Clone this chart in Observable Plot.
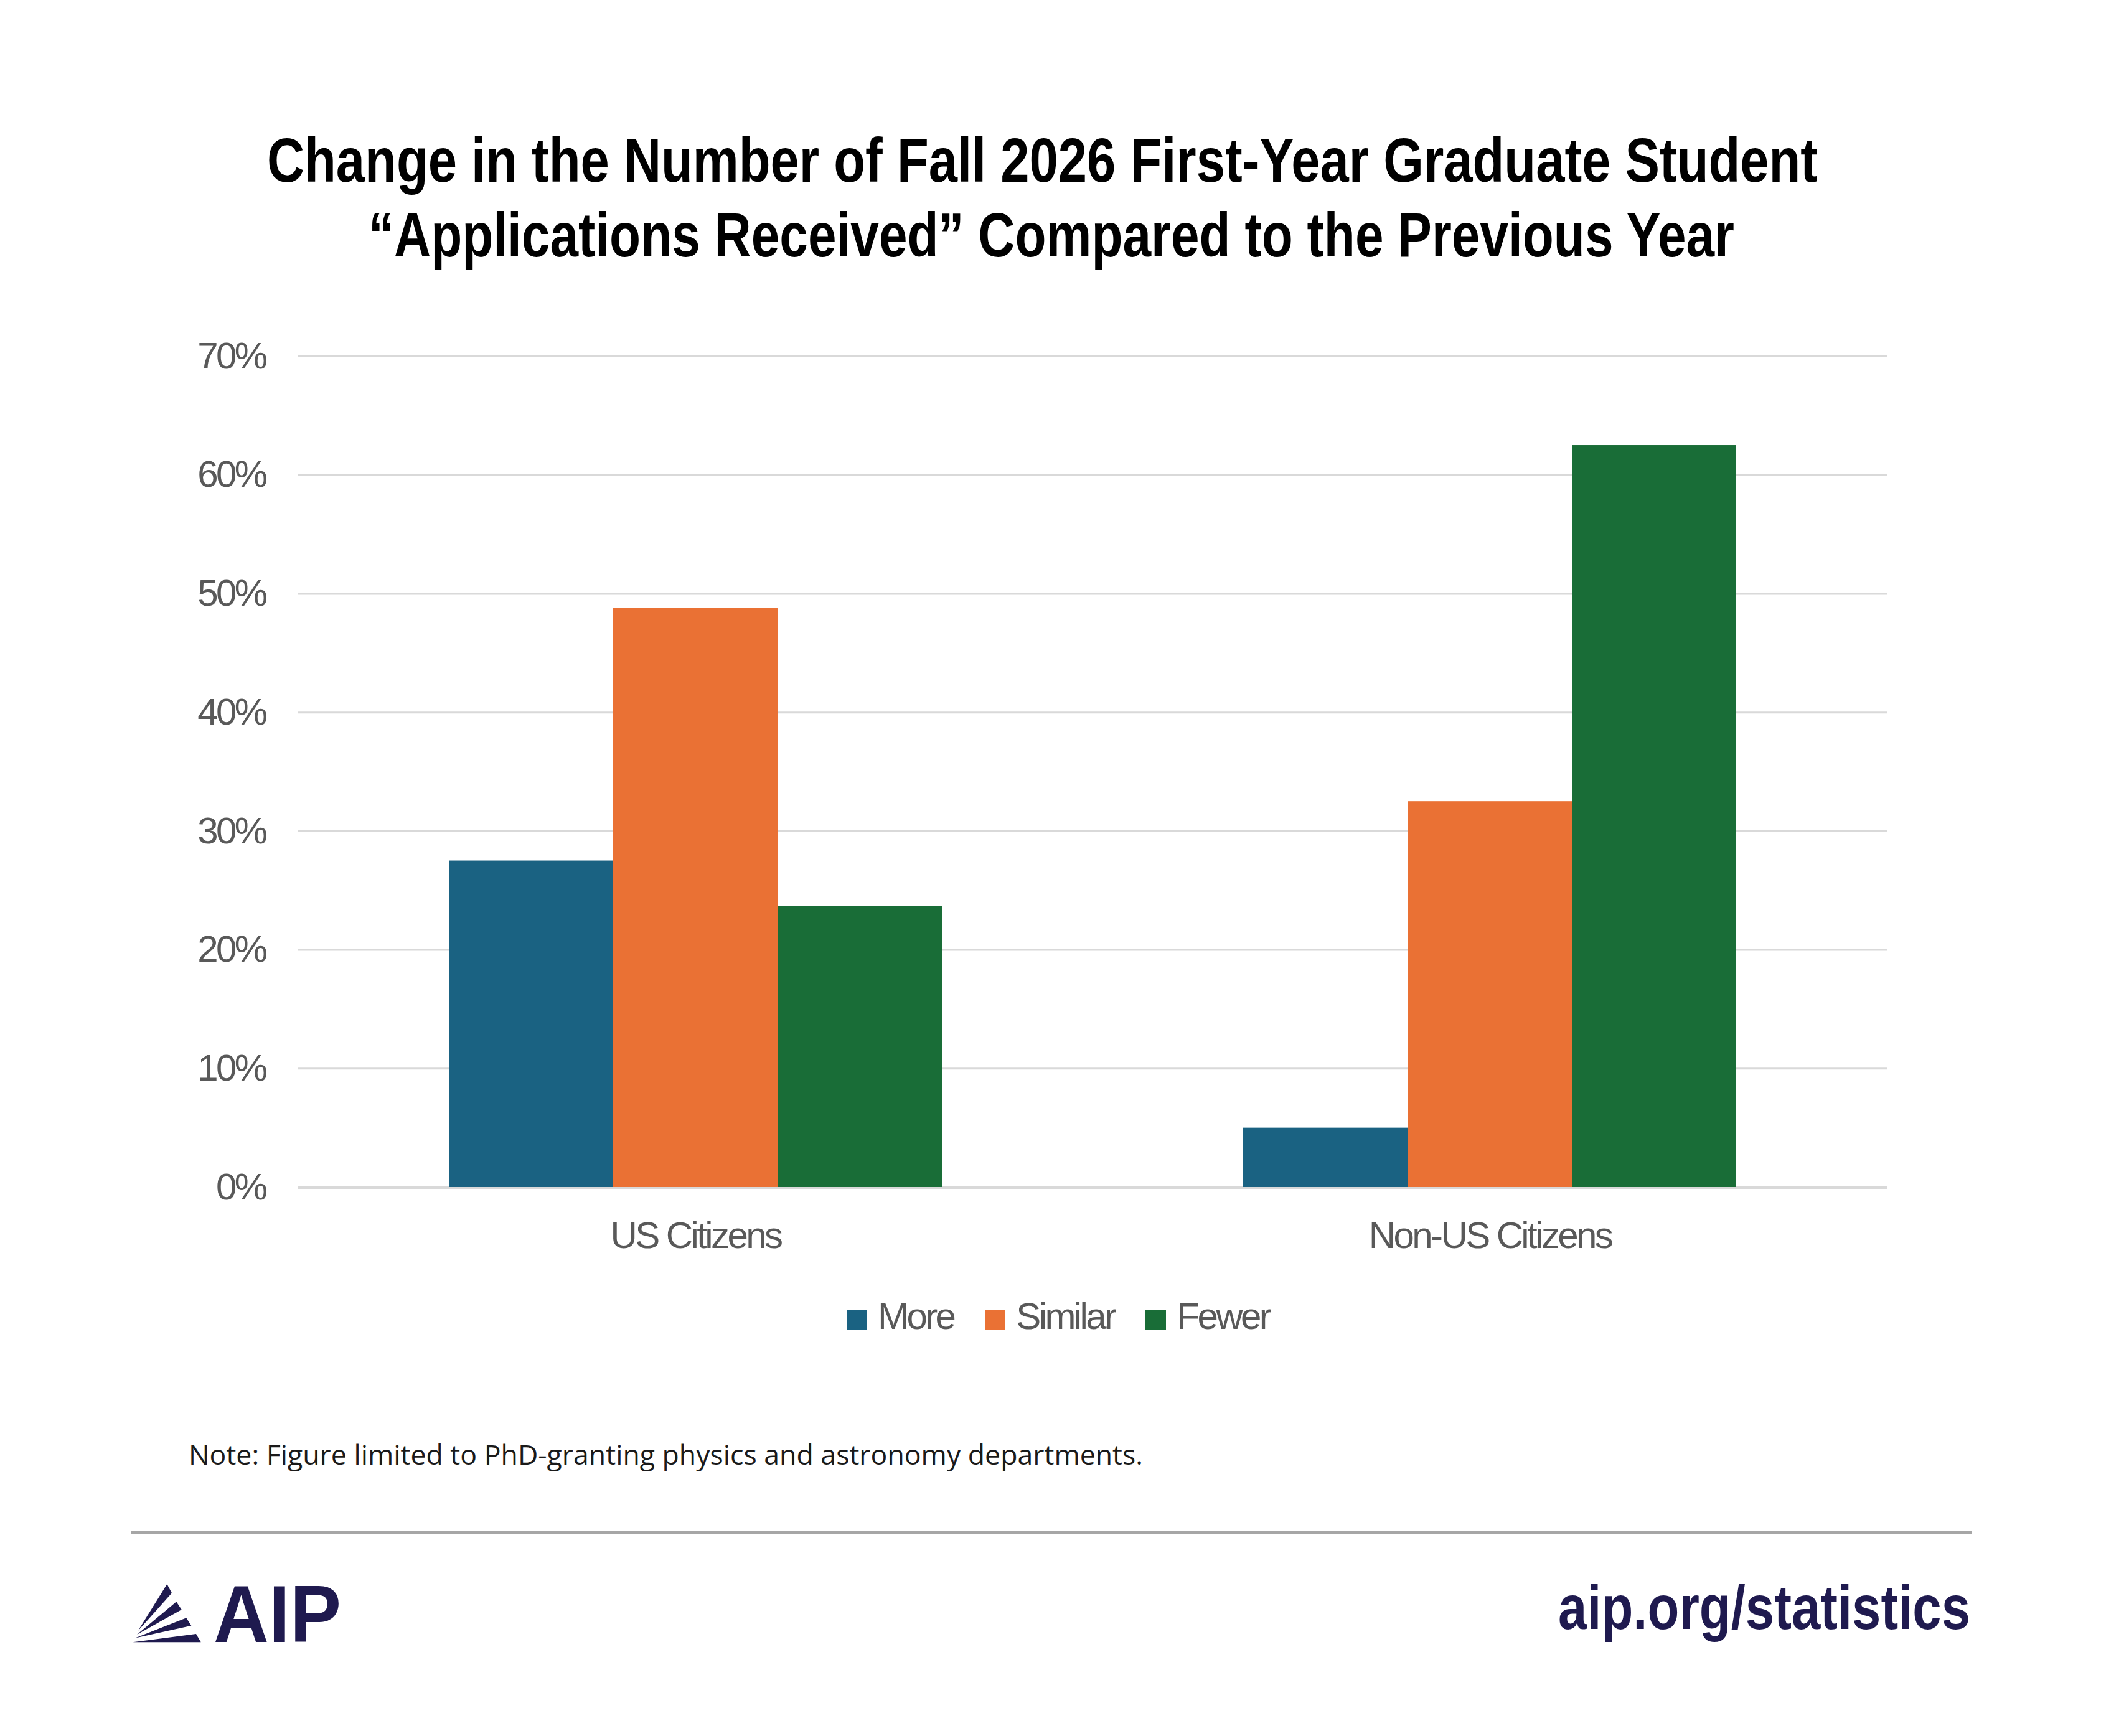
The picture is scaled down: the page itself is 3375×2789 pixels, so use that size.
<!DOCTYPE html>
<html>
<head>
<meta charset="utf-8">
<script src="https://cdn.jsdelivr.net/npm/d3@7"></script>
<script src="https://cdn.jsdelivr.net/npm/@observablehq/plot@0.6"></script>
<style>
  html, body { margin: 0; padding: 0; background: #ffffff; }
  #page { position: relative; width: 3375px; height: 2789px; background: #ffffff; overflow: hidden; }
  .t { position: absolute; white-space: nowrap; display: inline-block; line-height: 1; transform-origin: left center; }
  #chart { position: absolute; left: 0; top: 500px; }
  #legend { position: absolute; left: 1360px; top: 2065px; display: flex; align-items: center; height: 100px; }
  .item { display: flex; align-items: center; margin-right: 50px; }
  .sw { width: 33px; height: 33px; margin-right: 17px; margin-top: 10px; }
  .lt { font-family: "Liberation Sans", Arial, sans-serif; font-size: 60px; letter-spacing: -0.06em; color: #595959; line-height: 1; }
  #rule { position: absolute; left: 210px; top: 2460px; width: 2958px; height: 4px; background: #a6a6a6; }
</style>
</head>
<body>
<div id="page"></div>
<script>
// ---- data ----
const groups = ["US Citizens", "Non-US Citizens"];
const series = ["More", "Similar", "Fewer"];
const usCitizens = [27.5, 48.8, 23.7];
const nonUsCitizens = [5.0, 32.5, 62.5];
const seriesColors = ["#1a6282", "#ea7134", "#196d37"];
const yTicks = [0, 10, 20, 30, 40, 50, 60, 70];
const titleLines = [
  "Change in the Number of Fall 2026 First-Year Graduate Student",
  "\u201CApplications Received\u201D Compared to the Previous Year"
];
const noteText = "Note: Figure limited to PhD-granting physics and astronomy departments.";
const urlText = "aip.org/statistics";

const rows = [];
[usCitizens, nonUsCitizens].forEach((vals, gi) => {
  vals.forEach((v, si) => rows.push({group: groups[gi], series: series[si], value: v}));
});

const page = document.getElementById("page");

// text helper: baseline positioning + optional width fit
function addText(txt, opt) {
  const el = document.createElement("div");
  el.className = "t";
  el.textContent = txt;
  el.style.fontFamily = opt.family;
  el.style.fontWeight = opt.weight || "normal";
  el.style.fontSize = opt.size + "px";
  el.style.color = opt.color;
  if (opt.spacing) el.style.letterSpacing = opt.spacing;
  el.style.left = opt.x0 + "px";
  el.style.top = (opt.baseline - opt.asc * opt.size) + "px";
  page.appendChild(el);
  if (opt.x1 != null) {
    const w = el.getBoundingClientRect().width;
    el.style.transform = "scaleX(" + ((opt.x1 - opt.x0) / w) + ")";
  }
  return el;
}

const sans = "'Liberation Sans', Arial, Helvetica, sans-serif";
const LIB_ASC = 0.8465;
const OPEN_ASC = 0.888;

// Title
addText(titleLines[0], {family: sans, weight: "bold", size: 100, color: "#000000", x0: 429, x1: 2920, baseline: 292, asc: LIB_ASC});
addText(titleLines[1], {family: sans, weight: "bold", size: 100, color: "#000000", x0: 592, x1: 2786, baseline: 412, asc: LIB_ASC});

// Chart
const chart = Plot.plot({
  width: 3375,
  height: 1560,
  marginTop: 72,
  marginBottom: 153,
  marginLeft: 478,
  marginRight: 344,
  style: {
    fontFamily: sans,
    fontSize: "60px",
    letterSpacing: "-0.06em",
    color: "#595959",
    background: "transparent",
    overflow: "visible"
  },
  facet: {data: rows, x: "group", label: null},
  fx: {domain: groups, padding: 0, axis: "bottom", tickSize: 0, tickPadding: 55, label: null},
  x: {domain: series, paddingInner: 0, paddingOuter: 0.91, axis: null},
  y: {domain: [0, 70], ticks: yTicks, tickFormat: d => d + "%", tickSize: 0, tickPadding: 53, label: null},
  color: {domain: series, range: seriesColors},
  marks: [
    Plot.ruleY(yTicks, {stroke: "#d9d9d9", strokeWidth: 3}),
    Plot.barY(rows, {x: "series", y: "value", fill: "series"}),
    Plot.ruleY([0], {stroke: "#d9d9d9", strokeWidth: 3, dy: 1.5})
  ]
});
chart.id = "chart";
page.appendChild(chart);

// Legend
const legend = document.createElement("div");
legend.id = "legend";
series.forEach((s, i) => {
  const item = document.createElement("div");
  item.className = "item";
  const sw = document.createElement("div");
  sw.className = "sw";
  sw.style.background = seriesColors[i];
  const lt = document.createElement("div");
  lt.className = "lt";
  lt.textContent = s;
  item.appendChild(sw);
  item.appendChild(lt);
  legend.appendChild(item);
});
page.appendChild(legend);

// Note
addText(noteText, {family: "'Open Sans', 'Noto Sans', sans-serif", size: 43, color: "#1a1a1a", x0: 303, x1: 1836, baseline: 2353, asc: OPEN_ASC});

// Divider
const rule = document.createElement("div");
rule.id = "rule";
page.appendChild(rule);

// Footer: AIP logo
const ns = "http://www.w3.org/2000/svg";
const logo = document.createElementNS(ns, "svg");
logo.setAttribute("width", "140");
logo.setAttribute("height", "120");
logo.style.position = "absolute";
logo.style.left = "200px";
logo.style.top = "2530px";
const rays = [
  "21.7,90 68.3,15 76,29.3",
  "20,96 83.3,43.3 91.7,56",
  "16.7,101.7 99.3,69.3 107.3,81.7",
  "13.3,108.3 115,95 122.7,108.3"
];
rays.forEach(p => {
  const poly = document.createElementNS(ns, "polygon");
  poly.setAttribute("points", p);
  poly.setAttribute("fill", "#1f1a4f");
  logo.appendChild(poly);
});
page.appendChild(logo);
addText("AIP", {family: sans, weight: "bold", size: 130, color: "#1f1a4f", x0: 343, x1: 548, baseline: 2638, asc: LIB_ASC});

// Footer: URL
addText(urlText, {family: sans, weight: "bold", size: 100, color: "#1f1a4f", x0: 2503, x1: 3165, baseline: 2617, asc: LIB_ASC});
</script>
</body>
</html>
